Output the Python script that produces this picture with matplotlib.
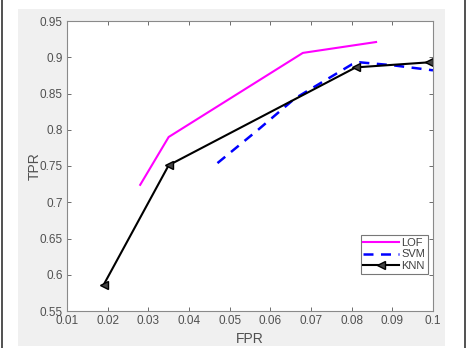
import matplotlib
matplotlib.use("Agg")
import matplotlib.pyplot as plt
from matplotlib.patches import Rectangle
from matplotlib.lines import Line2D

plt.rcParams['font.family'] = ['Liberation Sans', 'DejaVu Sans']

lof_fpr = [0.028, 0.035, 0.068, 0.086]
lof_tpr = [0.724, 0.790, 0.906, 0.921]

svm_fpr = [0.047, 0.057, 0.066, 0.080, 0.082, 0.090, 0.100]
svm_tpr = [0.754, 0.800, 0.843, 0.890, 0.893, 0.889, 0.882]

knn_fpr = [0.019, 0.035, 0.081, 0.099]
knn_tpr = [0.586, 0.751, 0.886, 0.893]

xticks = [0.01, 0.02, 0.03, 0.04, 0.05, 0.06, 0.07, 0.08, 0.09, 0.1]
xlabels = ['0.01', '0.02', '0.03', '0.04', '0.05', '0.06', '0.07', '0.08', '0.09', '0.1']
yticks = [0.55, 0.6, 0.65, 0.7, 0.75, 0.8, 0.85, 0.9, 0.95]
ylabels = ['0.55', '0.6', '0.65', '0.7', '0.75', '0.8', '0.85', '0.9', '0.95']

W, H = 469, 348
fig = plt.figure(figsize=(W / 100, H / 100), dpi=100)
fig.patch.set_facecolor('white')

# grey panel and dark frame lines like the screenshot
fig.patches.append(Rectangle((18 / W, 1 - 346 / H), (445 - 18) / W, (346 - 9) / H,
                             transform=fig.transFigure, facecolor='#f0f0f0', edgecolor='none', zorder=-2))
fig.lines.append(Line2D([1.5 / W, 1.5 / W], [0, 1], transform=fig.transFigure, color='#333333', lw=1.2))
fig.lines.append(Line2D([464.5 / W, 464.5 / W], [0, 1], transform=fig.transFigure, color='#333333', lw=1.2))

ax = fig.add_axes([67 / W, 1 - 311 / H, (433 - 67) / W, (311 - 21) / H])
ax.set_facecolor('white')

ax.plot(lof_fpr, lof_tpr, color='#ff00ff', lw=1.5, label='LOF')
ax.plot(svm_fpr, svm_tpr, color='#0000ff', lw=1.8, ls=(0, (4, 3)), label='SVM')
ax.plot(knn_fpr, knn_tpr, color='black', lw=1.5, marker='<', ms=6,
        mfc='#444444', mec='black', label='KNN')

ax.set_xlim(0.01, 0.1)
ax.set_ylim(0.55, 0.95)
ax.set_xticks(xticks)
ax.set_xticklabels(xlabels)
ax.set_yticks(yticks)
ax.set_yticklabels(ylabels)
ax.tick_params(direction='in', top=True, right=True, length=3, width=0.6,
               colors='#555555', labelsize=8.5, labelcolor='#505050', pad=3)
for s in ax.spines.values():
    s.set_color('#8a8a8a')
    s.set_linewidth(0.8)

ax.set_xlabel('FPR', fontsize=10, color='#505050')
ax.set_ylabel('TPR', fontsize=10, color='#505050')
ax.xaxis.set_label_coords(0.5, -0.072)
ax.yaxis.set_label_coords(-0.070, 0.5)

leg = ax.legend(loc='lower right', bbox_to_anchor=(0.986, 0.128), fontsize=8,
                frameon=True, fancybox=False, handlelength=3.2, handletextpad=0.2,
                borderpad=0.25, labelspacing=0.15, borderaxespad=0)
leg.get_frame().set_edgecolor('#555555')
leg.get_frame().set_linewidth(0.8)
for t in leg.get_texts():
    t.set_color('#404040')

fig.savefig('out.png', dpi=100)
